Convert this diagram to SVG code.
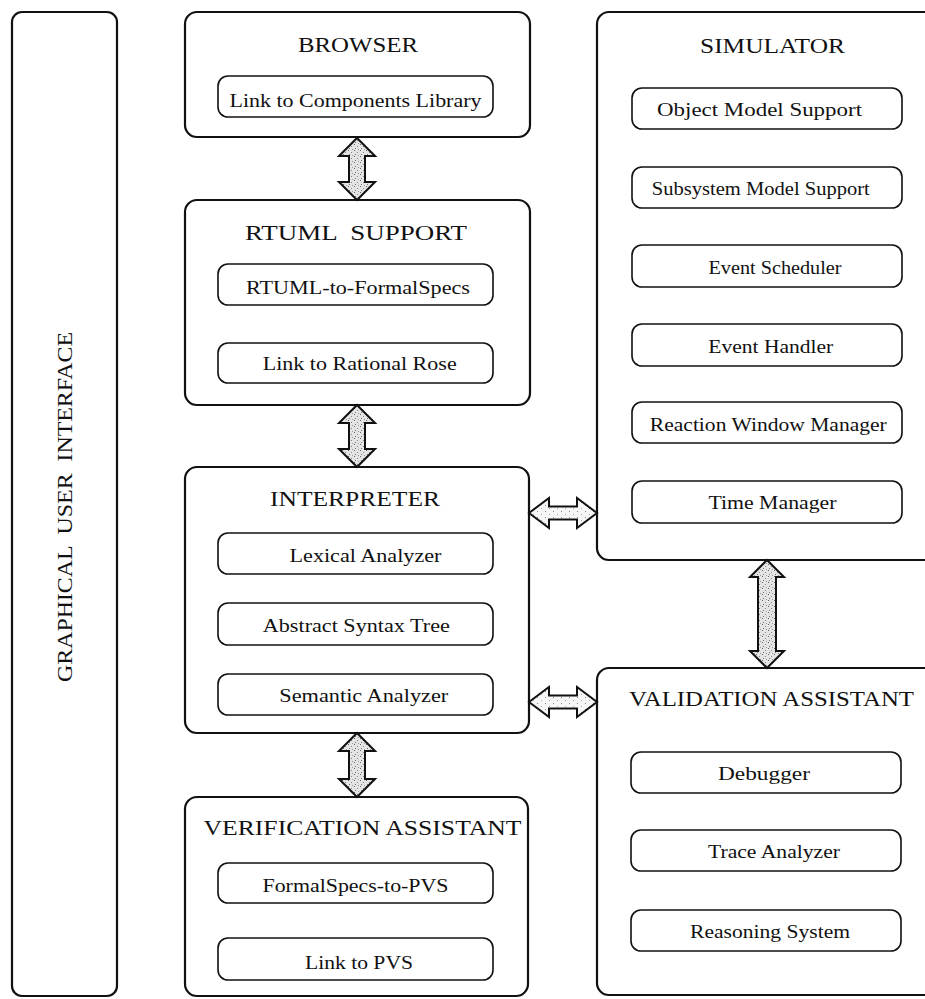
<svg xmlns="http://www.w3.org/2000/svg" width="925" height="999" viewBox="0 0 925 999">
  <style>
    .outer { fill: #fff; stroke: #111; stroke-width: 2.2; }
    .inner { fill: #fff; stroke: #111; stroke-width: 1.6; }
    .title { font-family: "Liberation Serif", "Times New Roman", serif; font-size: 22px; fill: #111; text-anchor: middle; }
    .label { font-family: "Liberation Serif", "Times New Roman", serif; font-size: 18px; fill: #111; text-anchor: middle; }
    .arrow { stroke: #111; stroke-width: 2; stroke-linejoin: miter; }
  </style>
  <defs>
    <!-- stippled grey fill for the vertical block arrows -->
    <pattern id="stipple" width="6" height="6" patternUnits="userSpaceOnUse">
      <rect width="6" height="6" fill="#e4e4e4"/>
      <rect x="0" y="0" width="1" height="1" fill="#666"/>
      <rect x="3" y="2" width="1" height="1" fill="#888"/>
      <rect x="1" y="4" width="1" height="1" fill="#777"/>
      <rect x="4" y="5" width="1" height="1" fill="#999"/>
    </pattern>
    <!-- sparser stipple for the horizontal block arrows -->
    <pattern id="stippleLight" width="8" height="6" patternUnits="userSpaceOnUse">
      <rect width="8" height="6" fill="#f6f6f6"/>
      <rect x="1" y="1" width="1" height="1" fill="#888"/>
      <rect x="5" y="4" width="1" height="1" fill="#aaa"/>
    </pattern>
  </defs>

  <rect width="925" height="999" fill="#fff"/>

  <!-- Graphical user interface column -->
  <g id="gui">
    <rect class="outer" x="12" y="12" width="105" height="984" rx="10"/>
    <text class="title" font-size="19" transform="translate(72,507) rotate(-90)" textLength="350" lengthAdjust="spacingAndGlyphs" xml:space="preserve">GRAPHICAL  USER  INTERFACE</text>
  </g>

  <!-- Browser -->
  <g id="browser">
    <rect class="outer" x="185" y="12" width="345" height="125" rx="12"/>
    <text class="title" x="358" y="52" textLength="120" lengthAdjust="spacingAndGlyphs">BROWSER</text>
    <rect class="inner" x="218" y="76" width="275" height="41" rx="10"/>
    <text class="label" x="355.5" y="107" textLength="252" lengthAdjust="spacingAndGlyphs">Link to Components Library</text>
  </g>

  <!-- RTUML support -->
  <g id="rtuml-support">
    <rect class="outer" x="185" y="200" width="345" height="205" rx="12"/>
    <text class="title" x="356" y="240" textLength="222" lengthAdjust="spacingAndGlyphs" xml:space="preserve">RTUML  SUPPORT</text>
    <rect class="inner" x="218" y="264" width="275" height="41" rx="10"/>
    <text class="label" x="358" y="294" textLength="224" lengthAdjust="spacingAndGlyphs">RTUML-to-FormalSpecs</text>
    <rect class="inner" x="218" y="343" width="275" height="40" rx="10"/>
    <text class="label" x="359.7" y="370" textLength="194" lengthAdjust="spacingAndGlyphs">Link to Rational Rose</text>
  </g>

  <!-- Interpreter -->
  <g id="interpreter">
    <rect class="outer" x="185" y="467" width="344" height="266" rx="12"/>
    <text class="title" x="355" y="506" textLength="170" lengthAdjust="spacingAndGlyphs">INTERPRETER</text>
    <rect class="inner" x="218" y="533" width="275" height="41" rx="10"/>
    <text class="label" x="365.5" y="562" textLength="152" lengthAdjust="spacingAndGlyphs">Lexical Analyzer</text>
    <rect class="inner" x="218" y="603" width="275" height="42" rx="10"/>
    <text class="label" x="356.3" y="632" textLength="187" lengthAdjust="spacingAndGlyphs">Abstract Syntax Tree</text>
    <rect class="inner" x="218" y="674" width="275" height="41" rx="10"/>
    <text class="label" x="363.8" y="702" textLength="169" lengthAdjust="spacingAndGlyphs">Semantic Analyzer</text>
  </g>

  <!-- Verification assistant -->
  <g id="verification-assistant">
    <rect class="outer" x="185" y="797" width="343" height="199" rx="12"/>
    <text class="title" x="362.5" y="835" textLength="318" lengthAdjust="spacingAndGlyphs">VERIFICATION ASSISTANT</text>
    <rect class="inner" x="218" y="863" width="275" height="40" rx="10"/>
    <text class="label" x="355.5" y="892" textLength="186" lengthAdjust="spacingAndGlyphs">FormalSpecs-to-PVS</text>
    <rect class="inner" x="218" y="938" width="275" height="42" rx="10"/>
    <text class="label" x="359" y="969" textLength="108" lengthAdjust="spacingAndGlyphs">Link to PVS</text>
  </g>

  <!-- Simulator -->
  <g id="simulator">
    <rect class="outer" x="597" y="12" width="340" height="548" rx="12"/>
    <text class="title" x="772.5" y="53" textLength="145" lengthAdjust="spacingAndGlyphs">SIMULATOR</text>
    <rect class="inner" x="632" y="88" width="270" height="41" rx="10"/>
    <text class="label" x="759.5" y="116" textLength="205" lengthAdjust="spacingAndGlyphs">Object Model Support</text>
    <rect class="inner" x="632" y="167" width="270" height="41" rx="10"/>
    <text class="label" x="760.8" y="195" textLength="218" lengthAdjust="spacingAndGlyphs">Subsystem Model Support</text>
    <rect class="inner" x="632" y="245" width="270" height="42" rx="10"/>
    <text class="label" x="775" y="274" textLength="133" lengthAdjust="spacingAndGlyphs">Event Scheduler</text>
    <rect class="inner" x="632" y="324" width="270" height="42" rx="10"/>
    <text class="label" x="770.8" y="353" textLength="125" lengthAdjust="spacingAndGlyphs">Event Handler</text>
    <rect class="inner" x="632" y="402" width="270" height="41" rx="10"/>
    <text class="label" x="768.3" y="431" textLength="237" lengthAdjust="spacingAndGlyphs">Reaction Window Manager</text>
    <rect class="inner" x="632" y="481" width="270" height="42" rx="10"/>
    <text class="label" x="772.5" y="509" textLength="128" lengthAdjust="spacingAndGlyphs">Time Manager</text>
  </g>

  <!-- Validation assistant -->
  <g id="validation-assistant">
    <rect class="outer" x="597" y="668" width="340" height="327" rx="12"/>
    <text class="title" x="771.5" y="706" textLength="285" lengthAdjust="spacingAndGlyphs">VALIDATION ASSISTANT</text>
    <rect class="inner" x="631" y="752" width="270" height="41" rx="10"/>
    <text class="label" x="764" y="780" textLength="92" lengthAdjust="spacingAndGlyphs">Debugger</text>
    <rect class="inner" x="631" y="830" width="270" height="41" rx="10"/>
    <text class="label" x="774" y="858" textLength="132" lengthAdjust="spacingAndGlyphs">Trace Analyzer</text>
    <rect class="inner" x="631" y="910" width="270" height="41" rx="10"/>
    <text class="label" x="770" y="938" textLength="160" lengthAdjust="spacingAndGlyphs">Reasoning System</text>
  </g>

  <!-- Double-headed block arrows between components -->
  <g id="connectors">
    <path class="arrow" fill="url(#stipple)" d="M357,138 L375,156 L365,156 L365,182 L375,182 L357,200 L339,182 L349,182 L349,156 L339,156 Z"/>
    <path class="arrow" fill="url(#stipple)" d="M357,405 L375,423 L365,423 L365,449 L375,449 L357,467 L339,449 L349,449 L349,423 L339,423 Z"/>
    <path class="arrow" fill="url(#stipple)" d="M357,733 L375,751 L365,751 L365,779 L375,779 L357,797 L339,779 L349,779 L349,751 L339,751 Z"/>
    <path class="arrow" fill="url(#stipple)" d="M767,560 L784,577 L776,577 L776,651 L784,651 L767,668 L750,651 L758,651 L758,577 L750,577 Z"/>
    <path class="arrow" fill="url(#stippleLight)" d="M529,513 L549,498 L549,506.5 L577,506.5 L577,498 L597,513 L577,528 L577,519.5 L549,519.5 L549,528 Z"/>
    <path class="arrow" fill="url(#stippleLight)" d="M529,702 L549,687 L549,695.5 L577,695.5 L577,687 L597,702 L577,717 L577,708.5 L549,708.5 L549,717 Z"/>
  </g>
</svg>
